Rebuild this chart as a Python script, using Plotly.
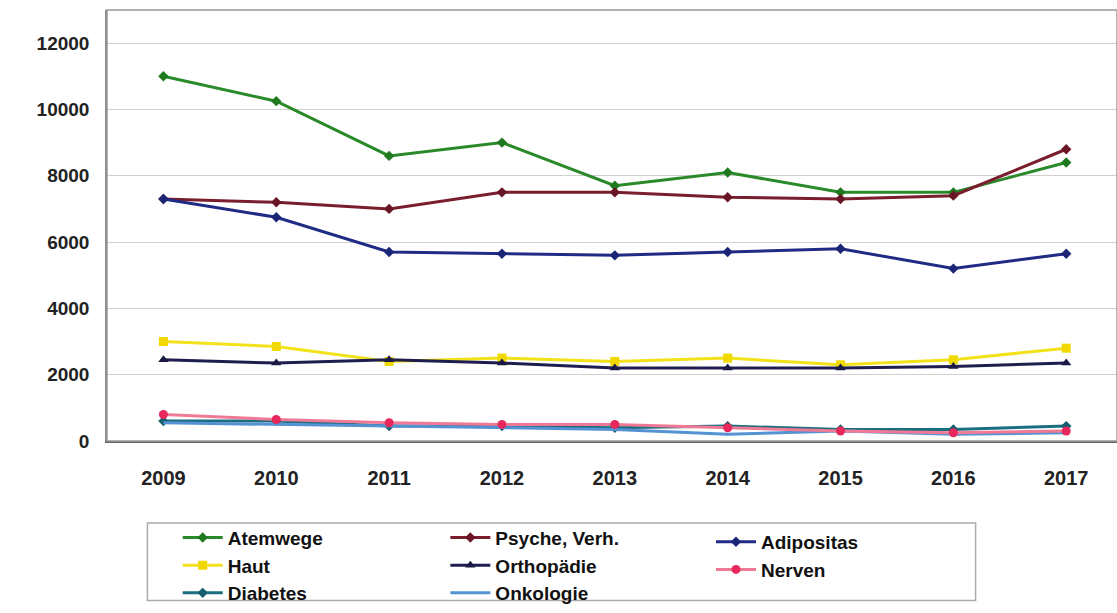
import plotly.graph_objects as go

years = ["2009", "2010", "2011", "2012", "2013", "2014", "2015", "2016", "2017"]
atemwege = [11000, 10250, 8600, 9000, 7700, 8100, 7500, 7500, 8400]
psyche = [7300, 7200, 7000, 7500, 7500, 7350, 7300, 7400, 8800]
adipositas = [7300, 6750, 5700, 5650, 5600, 5700, 5800, 5200, 5650]
haut = [3000, 2850, 2400, 2500, 2400, 2500, 2300, 2450, 2800]
orthopaedie = [2450, 2350, 2450, 2350, 2200, 2200, 2200, 2250, 2350]
nerven = [800, 650, 550, 500, 500, 400, 300, 250, 300]
diabetes = [600, 600, 450, 450, 400, 450, 350, 350, 450]
onkologie = [550, 500, 450, 400, 350, 200, 300, 200, 250]
y_ticks = [0, 2000, 4000, 6000, 8000, 10000, 12000]

series = [
    ("Atemwege", atemwege, "#2a8a2a", "#1f7a1f", "diamond", 8, "legend"),
    ("Haut", haut, "#f2e21a", "#f0d800", "square", 9, "legend"),
    ("Diabetes", diabetes, "#1b6e80", "#145e6e", "diamond", 8, "legend"),
    ("Psyche, Verh.", psyche, "#7a1e2e", "#6a1525", "diamond", 8, "legend2"),
    ("Orthopädie", orthopaedie, "#1e1e4e", "#1a1a45", "triangle-up", 9, "legend2"),
    ("Onkologie", onkologie, "#5592d4", "#5592d4", None, 0, "legend2"),
    ("Adipositas", adipositas, "#1f2b85", "#1a2575", "diamond", 8, "legend3"),
    ("Nerven", nerven, "#f07a96", "#e8285c", "circle", 9, "legend3"),
]

fig = go.Figure()
for name, vals, lc, mc, sym, ms, lg in series:
    if sym:
        fig.add_trace(go.Scatter(x=years, y=vals, name=name, mode="lines+markers",
                                 line=dict(color=lc, width=3),
                                 marker=dict(symbol=sym, size=ms, color=mc),
                                 legend=lg))
    else:
        fig.add_trace(go.Scatter(x=years, y=vals, name=name, mode="lines",
                                 line=dict(color=lc, width=3), legend=lg))

font_main = "Liberation Sans, Arial, sans-serif"
leg_common = dict(font=dict(family=font_main, size=19, color="#111", weight="bold"),
                  bgcolor="rgba(0,0,0,0)", borderwidth=0, tracegroupgap=0,
                  itemwidth=40, yanchor="top", xanchor="left", orientation="v")

fig.update_layout(
    width=1117, height=613,
    margin=dict(l=107, r=0, t=10, b=167),
    paper_bgcolor="white", plot_bgcolor="white",
    font=dict(family=font_main, color="#222"),
    xaxis=dict(type="category", range=[-0.5, 8.45], showgrid=False,
               showline=True, linecolor="#666", linewidth=1.5, mirror=False,
               ticks="", ticklabelstandoff=18,
               tickfont=dict(family=font_main, size=20, color="#222", weight="bold")),
    yaxis=dict(range=[0, 13000], tickvals=y_ticks, ticktext=[str(v) for v in y_ticks],
               showgrid=True, gridcolor="#d0d0d0", gridwidth=1,
               showline=True, linecolor="#888", linewidth=1.5, zeroline=False,
               ticks="", ticklabelstandoff=12,
               tickfont=dict(family=font_main, size=19, color="#222", weight="bold")),
    legend=dict(x=0.07, y=-0.18, **leg_common),
    legend2=dict(x=0.335, y=-0.18, **leg_common),
    legend3=dict(x=0.598, y=-0.19, **leg_common),
    shapes=[
        dict(type="rect", xref="paper", yref="paper", x0=0, x1=1, y0=0, y1=1,
             line=dict(color="#999", width=1.5), fillcolor="rgba(0,0,0,0)"),
        dict(type="rect", xref="paper", yref="paper", x0=0.04, x1=0.86,
             y0=-0.37, y1=-0.19, line=dict(color="#aaa", width=1.5),
             fillcolor="rgba(0,0,0,0)", layer="below"),
    ],
)

fig.write_html("out.html")
